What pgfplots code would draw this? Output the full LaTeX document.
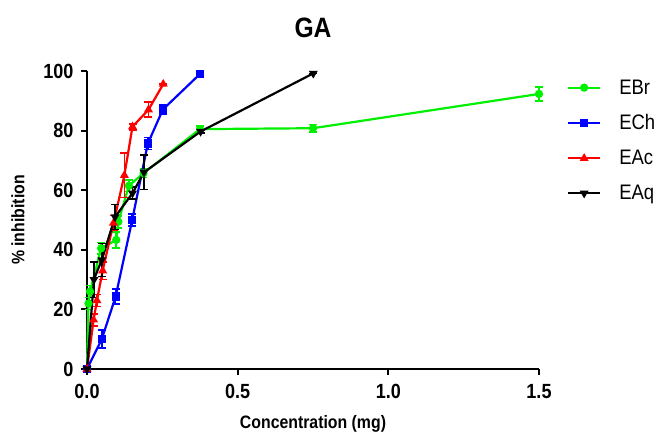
\documentclass[border=0pt]{standalone}
\usepackage{fontspec}
\setmainfont{Liberation Sans}[FakeStretch=0.88]
\usepackage{pgfplots}
\pgfplotsset{compat=1.18}
\definecolor{cbr}{RGB}{0,240,0}
\definecolor{cch}{RGB}{0,0,255}
\definecolor{cac}{RGB}{255,0,0}
\definecolor{caq}{RGB}{0,0,0}
\begin{document}
\begin{tikzpicture}
\path[use as bounding box] (-87pt,-65pt) rectangle (571pt,369pt);
\begin{axis}[
  at={(0pt,0pt)}, anchor=origin,
  width=452pt, height=298pt, scale only axis,
  xmin=0, xmax=1.5, ymin=0, ymax=100,
  axis x line*=bottom, axis y line*=left,
  axis line style={line width=2.2pt},
  xtick={0,0.5,1,1.5}, ytick={0,20,40,60,80,100},
  tick align=outside, major tick length=6pt,
  tick style={line width=2pt, black},
  minor tick num=0,
  /pgf/number format/assume math mode=true,
  xticklabel style={/pgf/number format/.cd, fixed, fixed zerofill, precision=1, /tikz/.cd, yshift=-6pt},
  yticklabel style={xshift=-4pt},
  ticklabel style={font=\fontsize{20.5}{20.5}\selectfont\bfseries},
  xlabel={\textbf{Concentration (mg)}},
  ylabel={\textbf{\% inhibition}},
  xlabel style={font=\fontsize{18}{18}\selectfont, yshift=-10pt},
  ylabel style={font=\fontsize{18}{18}\selectfont, yshift=12pt},
  title={\textbf{GA}},
  title style={font=\fontsize{28}{28}\selectfont, yshift=24pt},
  clip=false,
  legend style={at={(1.055,0.985)}, anchor=north west, draw=none, fill=none,
    font=\fontsize{21}{21}\selectfont, row sep=15pt,
    nodes={inner xsep=8pt}},
  legend cell align=left,
  legend image code/.code={
    \draw[#1, line width=2.2pt] (0pt,0pt) -- (32pt,0pt);
    \draw[#1, mark repeat=1] plot coordinates {(16pt,0pt)};
  },
  every axis plot/.append style={line width=2.2pt, mark size=3pt,
    error bars/error bar style={line width=1.6pt},
    error bars/error mark options={rotate=90, mark size=4pt, line width=1.6pt}},
]
\addplot[color=cbr, mark=*, error bars/.cd, y dir=both, y explicit]
  table[x=x, y=y, y error=e] {
  x      y     e
  0      0     0
  0.005  22    2
  0.01   26    2
  0.047  40.5  2
  0.097  43.3  2.7
  0.104  49.4  2
  0.139  61.5  2
  0.1875 65.7  1.5
  0.375  80.5  1
  0.75   80.8  1.2
  1.5    92.3  2.3
};
\addlegendentry{\hspace*{10pt}EBr}
\addplot[color=cch, mark=square*, error bars/.cd, y dir=both, y explicit]
  table[x=x, y=y, y error=e] {
  x      y     e
  0      0     0
  0.049  10    3
  0.095  24.3  2.5
  0.15   50    2
  0.202  75.7  2
  0.252  87.1  1.5
  0.375  99    0.5
};
\addlegendentry{\hspace*{10pt}ECh}
\addplot[color=cac, mark=triangle*, error bars/.cd, y dir=both, y explicit]
  table[x=x, y=y, y error=e] {
  x      y     e
  0      0     0
  0.022  16.5  2
  0.033  23    2
  0.052  33    3
  0.088  49    2.5
  0.124  65    7.5
  0.151  81.3  1
  0.204  87    2.5
  0.253  95.6  0
};
\addlegendentry{\hspace*{10pt}EAc}
\addplot[color=caq, mark=triangle*, mark options={rotate=180}, error bars/.cd, y dir=both, y explicit]
  table[x=x, y=y, y error=e] {
  x      y     e
  0      0     0
  0.023  30    6
  0.049  36.6  5.5
  0.093  51    4.2
  0.151  59    2
  0.189  66    5.8
  0.377  79.7  0.5
  0.751  99.2  0
};
\addlegendentry{\hspace*{10pt}EAq}
\end{axis}
\end{tikzpicture}
\end{document}
